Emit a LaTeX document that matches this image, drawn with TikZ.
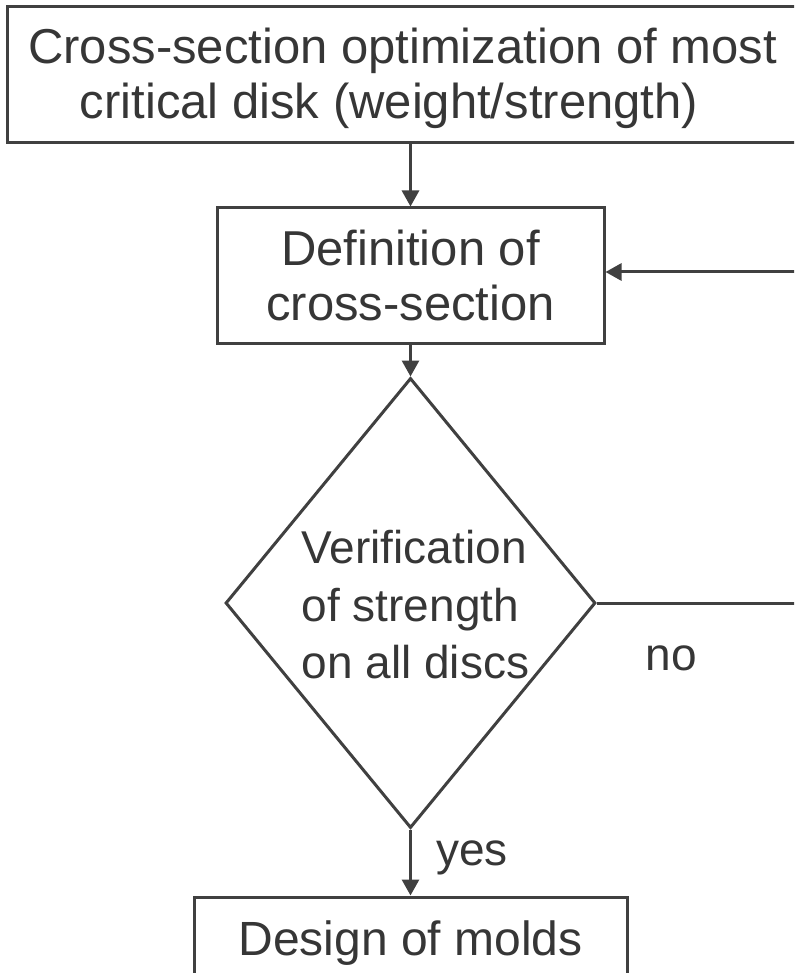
\documentclass[tikz,border=0pt]{standalone}
\usepackage{fontspec}
\setmainfont{Liberation Sans}
\usetikzlibrary{arrows.meta,shapes.geometric}
\definecolor{ln}{HTML}{404040}
\definecolor{tx}{HTML}{363636}
\begin{document}
\begin{tikzpicture}[x=1pt,y=-1pt,
  box/.style={draw=ln, line width=3pt, text=tx, inner sep=0pt, align=center, font=\fontsize{49}{55}\selectfont},
  txt/.style={text=tx, inner sep=0pt, align=center, font=\fontsize{49}{55}\selectfont},
  dia/.style={diamond, draw=ln, line width=3pt, inner sep=0pt, minimum width=370pt, minimum height=450pt},
  arr/.style={draw=ln, line width=3pt, -{Triangle[length=16pt,width=17pt]}},
  plain/.style={draw=ln, line width=3pt},
  lbl/.style={text=tx, inner sep=0pt, font=\fontsize{46}{57.5}\selectfont}]
\useasboundingbox (0,0) rectangle (794,973);
\clip (0,0) rectangle (794,973);
\node[box, minimum width=791pt, minimum height=136pt] (top) at (402.5,75) {};
\node[txt, yshift=-3pt] (toptxt) at (top.center)
  {Cross-section optimization of most\\critical disk (weight/strength)\hspace*{27pt}};
\node[box, minimum width=387pt, minimum height=135pt] (def) at (410.5,275.5)
  {Definition of\\cross-section};
\node[dia] (ver) at (410.5,603) {};
\node[lbl, align=left, xshift=5pt, yshift=-2pt] (vtxt) at (ver.center) {Verification\\of strength\\on all discs};
\node[box, minimum width=433pt, minimum height=77pt, text height=45pt, text depth=6pt, font=\fontsize{48}{55}\selectfont] (mold) at (410.5,935.5) {Design of molds};
\coordinate (r1) at (800,272);
\coordinate (r2) at (800,603);
\draw[arr] (top.south -| def.north) -- (def.north);
\draw[arr] (def.south) -- (ver.north);
\draw[arr] (ver.south) -- (mold.north);
\draw[arr] (r1) -- (def.east |- r1);
\draw[plain] (ver.east) -- (r2);
\node[lbl, anchor=base] (no) at (671,670) {no};
\node[lbl, anchor=base] (yes) at (472,865) {yes};
\end{tikzpicture}
\end{document}
